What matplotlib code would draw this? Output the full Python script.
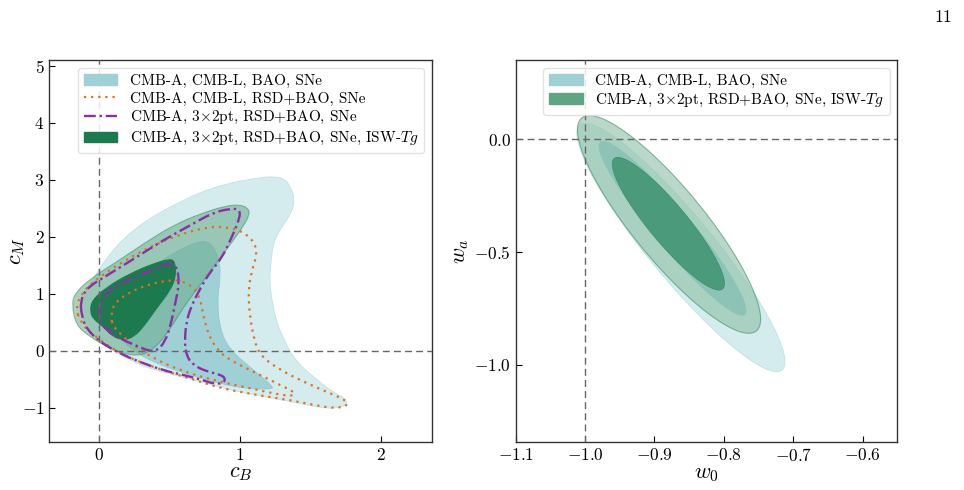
import numpy as np
import matplotlib
matplotlib.use("Agg")
import matplotlib.pyplot as plt
from matplotlib.path import Path
from matplotlib.patches import PathPatch, Patch
from matplotlib.lines import Line2D

plt.rcParams['font.family'] = 'serif'
plt.rcParams['font.serif'] = ['cmr10', 'DejaVu Serif']
plt.rcParams['mathtext.fontset'] = 'cm'
plt.rcParams['axes.formatter.use_mathtext'] = True
plt.rcParams['axes.unicode_minus'] = True

# ---- left panel: (c_B, c_M) contour outlines ----
blue_2sig = [(0.09, 1.73), (0.20, 2.02), (0.36, 2.32), (0.53, 2.55), (0.72, 2.78),
             (0.91, 2.93), (1.10, 3.02), (1.24, 3.06), (1.32, 3.01), (1.36, 2.87),
             (1.39, 2.67), (1.37, 2.43), (1.29, 2.14), (1.24, 1.91), (1.22, 1.56),
             (1.21, 1.21), (1.23, 0.85), (1.26, 0.50), (1.32, 0.15), (1.40, -0.20),
             (1.55, -0.52), (1.66, -0.73), (1.75, -0.84), (1.76, -0.95), (1.70, -1.01),
             (1.59, -1.01), (1.43, -0.93), (1.24, -0.84), (1.00, -0.73), (0.77, -0.58),
             (0.58, -0.46), (0.41, -0.35), (0.29, -0.25), (0.18, -0.11), (0.06, 0.04),
             (-0.06, 0.33), (-0.13, 0.62), (-0.11, 0.97), (-0.01, 1.38)]
blue_1sig = [(0.18, 0.97), (0.36, 1.44), (0.58, 1.79), (0.74, 1.94), (0.81, 1.85),
             (0.86, 1.56), (0.86, 1.23), (0.84, 0.88), (0.86, 0.36), (0.93, 0.01),
             (1.10, -0.35), (1.24, -0.64), (1.22, -0.68), (1.05, -0.67), (0.86, -0.58),
             (0.65, -0.43), (0.44, -0.26), (0.27, -0.05), (0.15, 0.21), (0.10, 0.56)]
isw_2sig = [(-0.19, 0.80), (-0.17, 1.00), (-0.06, 1.26), (0.13, 1.56), (0.34, 1.91),
            (0.53, 2.20), (0.72, 2.40), (0.90, 2.54), (1.00, 2.56), (1.06, 2.50),
            (1.07, 2.39), (1.03, 2.20), (0.93, 1.85), (0.84, 1.56), (0.72, 1.15),
            (0.62, 0.83), (0.53, 0.47), (0.44, 0.15), (0.36, -0.02), (0.29, -0.09),
            (0.18, -0.06), (0.06, 0.06), (-0.06, 0.24), (-0.16, 0.44)]
isw_1sig = [(-0.06, 0.68), (-0.05, 0.88), (0.06, 1.12), (0.22, 1.35), (0.39, 1.53),
            (0.51, 1.61), (0.54, 1.56), (0.55, 1.32), (0.51, 1.06), (0.41, 0.74),
            (0.32, 0.42), (0.25, 0.24), (0.18, 0.18), (0.10, 0.24), (0.03, 0.42),
            (-0.04, 0.56)]
rsd_2sig = [(-0.16, 0.74), (-0.13, 0.97), (-0.04, 1.21), (0.13, 1.50), (0.34, 1.79),
            (0.55, 2.02), (0.77, 2.17), (0.91, 2.17), (1.03, 2.08), (1.11, 1.88),
            (1.12, 1.67), (1.09, 1.44), (1.06, 1.09), (1.07, 0.62), (1.10, 0.21),
            (1.14, -0.08), (1.29, -0.35), (1.48, -0.58), (1.64, -0.75), (1.75, -0.87),
            (1.77, -0.95), (1.71, -1.01), (1.59, -0.99), (1.38, -0.88), (1.12, -0.78),
            (0.86, -0.66), (0.65, -0.49), (0.46, -0.35), (0.29, -0.20), (0.13, -0.02),
            (-0.04, 0.27), (-0.13, 0.50)]
rsd_1sig = [(0.09, 0.56), (0.10, 0.80), (0.20, 1.00), (0.34, 1.15), (0.48, 1.23),
            (0.58, 1.23), (0.67, 1.12), (0.72, 0.91), (0.74, 0.62), (0.78, 0.27),
            (0.84, 0.01), (0.93, -0.17), (1.12, -0.40), (1.29, -0.61), (1.39, -0.73),
            (1.38, -0.80), (1.29, -0.78), (1.05, -0.65), (0.81, -0.52), (0.58, -0.35),
            (0.39, -0.14), (0.25, 0.09), (0.15, 0.30), (0.10, 0.44)]
x3_2sig = [(-0.13, 0.85), (-0.09, 1.09), (0.06, 1.32), (0.25, 1.61), (0.46, 1.94),
           (0.65, 2.20), (0.81, 2.42), (0.93, 2.49), (1.00, 2.48), (1.00, 2.32),
           (0.94, 1.97), (0.87, 1.61), (0.79, 1.38), (0.72, 1.09), (0.66, 0.80),
           (0.62, 0.50), (0.61, 0.15), (0.62, -0.08), (0.67, -0.26), (0.77, -0.37),
           (0.86, -0.42), (0.90, -0.49), (0.88, -0.58), (0.81, -0.58), (0.74, -0.52),
           (0.62, -0.44), (0.46, -0.35), (0.29, -0.20), (0.15, -0.05), (0.01, 0.15),
           (-0.09, 0.39), (-0.12, 0.62)]
x3_1sig = [(0.005, 0.68), (0.02, 0.94), (0.13, 1.15), (0.29, 1.32), (0.44, 1.47),
           (0.52, 1.54), (0.56, 1.44), (0.57, 1.15), (0.54, 0.80), (0.51, 0.44),
           (0.47, 0.15), (0.41, -0.01), (0.36, -0.01), (0.27, 0.08), (0.15, 0.21),
           (0.06, 0.36), (0.01, 0.50)]

# ---- right panel: (w0, wa) Gaussian ellipses: centre, sigma_x, sigma_y, rho ----
blue_w_2sig = (-0.862, -0.480, 0.150, 0.550, -0.92)
blue_w_1sig = (-0.874, -0.395, 0.106, 0.385, -0.945)
isw_w_2sig = (-0.879, -0.378, 0.132, 0.482, -0.87)
isw_w_1sig = (-0.880, -0.375, 0.081, 0.294, -0.90)

labels_left = ['CMB-A, CMB-L, BAO, SNe',
               'CMB-A, CMB-L, RSD+BAO, SNe',
               r'CMB-A, 3$\times$2pt, RSD+BAO, SNe',
               r'CMB-A, 3$\times$2pt, RSD+BAO, SNe, ISW-$Tg$']
labels_right = [labels_left[0], labels_left[3]]

BLUE2, BLUE1 = '#d4ecee', '#9fd0d6'
GREEN_L = '#6aaa88'
GREEN_D = '#1c7a4e'
ORANGE = '#e0701f'
PURPLE = '#8a2fa6'


def smooth_path(points):
    # closed quadratic-bezier outline through the midpoints of the read vertices
    p = np.asarray(points, dtype=float)
    n = len(p)
    mids = (p + np.roll(p, -1, axis=0)) / 2
    verts = [mids[-1]]
    codes = [Path.MOVETO]
    for i in range(n):
        verts += [p[i], mids[i]]
        codes += [Path.CURVE3, Path.CURVE3]
    return Path(verts, codes)


def fill_shape(ax, points, **kw):
    ax.add_patch(PathPatch(smooth_path(points), **kw))


def ellipse_pts(params, n=200):
    cx, cy, sx, sy, rho = params
    cov = np.array([[sx**2, rho*sx*sy], [rho*sx*sy, sy**2]])
    L = np.linalg.cholesky(cov)
    t = np.linspace(0, 2*np.pi, n)
    xy = L @ np.vstack([np.cos(t), np.sin(t)])
    return cx + xy[0], cy + xy[1]


fig = plt.figure(figsize=(9.64, 4.90), dpi=100)
ax1 = fig.add_axes([0.0511, 0.0986, 0.3967, 0.779])
ax2 = fig.add_axes([0.535, 0.0986, 0.3958, 0.779])

# left panel
fill_shape(ax1, blue_2sig, facecolor=BLUE2, edgecolor='#bfe2e6', lw=0.6, zorder=1)
fill_shape(ax1, blue_1sig, facecolor=BLUE1, edgecolor='#92c9d0', lw=0.6, zorder=1.1)
fill_shape(ax1, isw_2sig, facecolor=GREEN_L, edgecolor='#3f8c66', alpha=0.55, lw=0.8, zorder=2)
fill_shape(ax1, isw_1sig, facecolor=GREEN_D, edgecolor=GREEN_D, lw=0.6, zorder=2.1)
for pts in (rsd_2sig, rsd_1sig):
    ax1.add_patch(PathPatch(smooth_path(pts), fill=False, edgecolor=ORANGE, lw=1.6,
                            ls=(0, (1, 2.2)), zorder=3))
for pts in (x3_2sig, x3_1sig):
    ax1.add_patch(PathPatch(smooth_path(pts), fill=False, edgecolor=PURPLE, lw=1.7,
                            ls=(0, (5, 1.6, 1, 1.6)), zorder=3.1))

ax1.axvline(0, color='#666666', ls='--', lw=1.0, dashes=(5, 3), zorder=4)
ax1.axhline(0, color='#666666', ls='--', lw=1.0, dashes=(5, 3), zorder=4)
ax1.set_xlim(-0.35, 2.36)
ax1.set_ylim(-1.6, 5.1)
ax1.set_xticks([0, 1, 2])
ax1.set_yticks([-1, 0, 1, 2, 3, 4, 5])
ax1.set_xlabel(r'$c_B$', fontsize=16, labelpad=1)
ax1.set_ylabel(r'$c_M$', fontsize=16, labelpad=-4)

handles_left = [Patch(facecolor=BLUE1, edgecolor=BLUE1),
                Line2D([], [], color=ORANGE, lw=1.6, ls=(0, (1, 2.2))),
                Line2D([], [], color=PURPLE, lw=1.7, ls=(0, (5, 1.6, 1, 1.6))),
                Patch(facecolor=GREEN_D, edgecolor=GREEN_D)]
ax1.legend(handles_left, labels_left, loc='upper right', fontsize=11,
           handlelength=2.2, borderpad=0.4, labelspacing=0.25, handletextpad=0.8,
           framealpha=0.85, edgecolor='#dddddd')

# right panel
for params, color, ec in ((blue_w_2sig, BLUE2, '#bfe2e6'), (blue_w_1sig, '#8fc9cf', '#8fc9cf')):
    x, y = ellipse_pts(params)
    ax2.fill(x, y, facecolor=color, edgecolor=ec, lw=0.6, zorder=1)
x, y = ellipse_pts(isw_w_2sig)
ax2.fill(x, y, facecolor='#8dbfa6', edgecolor='#3f8c66', alpha=0.6, lw=0.8, zorder=2)
x, y = ellipse_pts(isw_w_1sig)
ax2.fill(x, y, facecolor='#1f7f55', edgecolor='#1f7f55', alpha=0.6, lw=0.5, zorder=2.1)

ax2.axvline(-1.0, color='#666666', ls='--', lw=1.0, dashes=(5, 3), zorder=4)
ax2.axhline(0, color='#666666', ls='--', lw=1.0, dashes=(5, 3), zorder=4)
ax2.set_xlim(-1.1, -0.55)
ax2.set_ylim(-1.34, 0.35)
ax2.set_xticks([-1.1, -1.0, -0.9, -0.8, -0.7, -0.6])
ax2.set_yticks([-1.0, -0.5, 0.0])
ax2.set_xlabel(r'$w_0$', fontsize=16, labelpad=1)
ax2.set_ylabel(r'$w_a$', fontsize=16, labelpad=2)

handles_right = [Patch(facecolor=BLUE1, edgecolor=BLUE1),
                 Patch(facecolor='#5fa584', edgecolor='#5fa584')]
ax2.legend(handles_right, labels_right, loc='upper right', fontsize=11,
           handlelength=2.2, borderpad=0.4, labelspacing=0.25, handletextpad=0.8,
           framealpha=0.85, edgecolor='#dddddd')

for ax in (ax1, ax2):
    ax.tick_params(direction='in', length=4, width=0.8, labelsize=12.5)
    for s in ax.spines.values():
        s.set_color('#333333')
        s.set_linewidth(1.0)

fig.text(0.988, 0.965, '11', ha='right', va='center', fontsize=13)

fig.savefig('out.png', dpi=100)
